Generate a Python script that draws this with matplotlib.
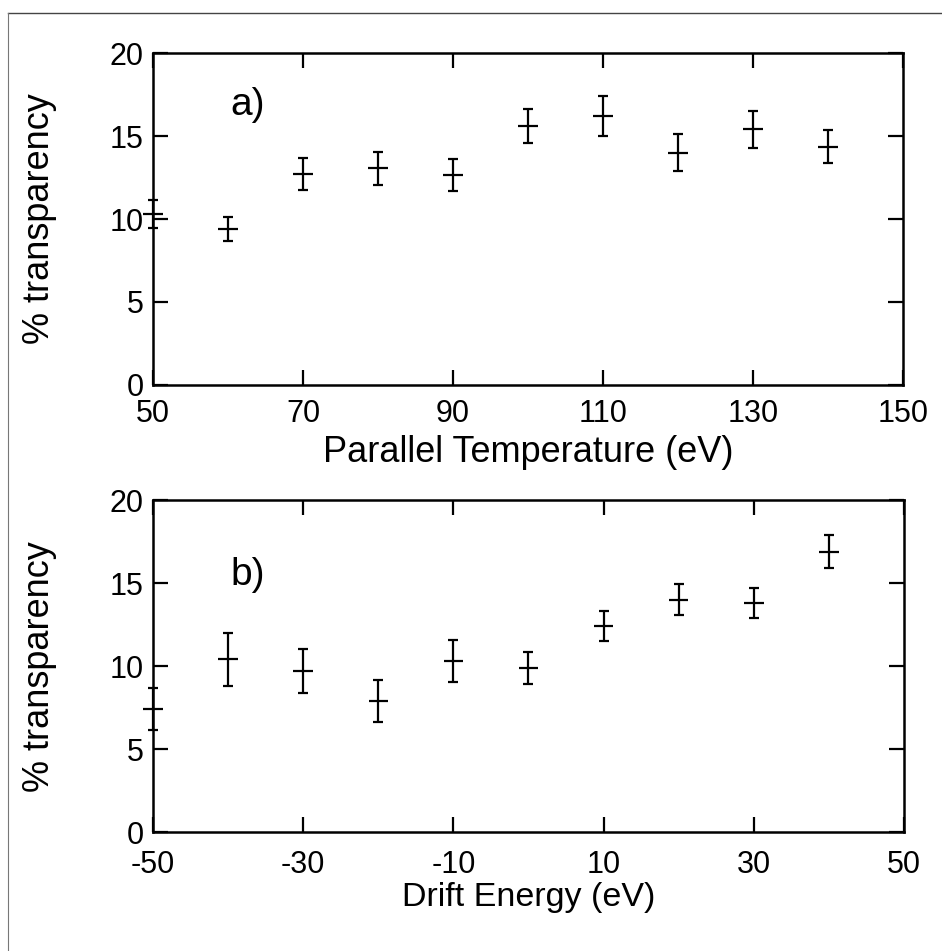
#############################################################
# transparency vs parallel temperature / drift energy
# two stacked panels, a) and b), error bars only
#############################################################

import matplotlib
matplotlib.use('Agg')
from matplotlib import pyplot as plt
from matplotlib.lines import Line2D

# panel a) data
temp_ev = [50, 60, 70, 80, 90, 100, 110, 120, 130, 140]
temp_trans = [10.3, 9.4, 12.7, 13.05, 12.65, 15.6, 16.2, 14.0, 15.4, 14.35]
temp_err = [0.85, 0.75, 0.95, 1.0, 0.97, 1.0, 1.2, 1.1, 1.1, 1.0]

# panel b) data
drift_ev = [-50, -40, -30, -20, -10, 0, 10, 20, 30, 40]
drift_trans = [7.4, 10.4, 9.7, 7.9, 10.3, 9.9, 12.4, 14.0, 13.8, 16.9]
drift_err = [1.25, 1.6, 1.3, 1.25, 1.25, 0.95, 0.9, 0.95, 0.9, 1.0]

x_half = 1.3  # half width of the horizontal bar of each "+"

temp_ticks = [50, 70, 90, 110, 130, 150]
drift_ticks = [-50, -30, -10, 10, 30, 50]
y_ticks = [0, 5, 10, 15, 20]

plt.rcParams['font.family'] = ['Liberation Sans', 'DejaVu Sans']
plt.rcParams['axes.unicode_minus'] = False


def draw_panel(ax, x, y, yerr, xticks, xlabel, tag, tag_y, xlabel_size, xpad):
    # vertical bars with caps
    ax.errorbar(x, y, yerr=yerr, fmt='none', ecolor='black', elinewidth=1.6,
                capsize=3.5, capthick=1.6, clip_on=False)
    # horizontal bar, no caps
    ax.errorbar(x, y, xerr=x_half, fmt='none', ecolor='black', elinewidth=1.6,
                capsize=0, clip_on=False)
    ax.set_xlim(xticks[0], xticks[-1])
    ax.set_ylim(0, 20)
    ax.set_xticks(xticks)
    ax.set_yticks(y_ticks)
    ax.tick_params(direction='in', length=11, width=1.6, labelsize=22,
                   top=True, right=True)
    ax.tick_params(axis='x', pad=xpad)
    ax.tick_params(axis='y', pad=6.5)
    for s in ax.spines.values():
        s.set_linewidth(1.8)
    ax.set_xlabel(xlabel, fontsize=xlabel_size)
    ax.xaxis.set_label_coords(0.5, -0.15)
    ax.set_ylabel('% transparency', fontsize=26)
    ax.yaxis.set_label_coords(-0.128, 0.5)
    ax.text(0.103, tag_y, tag, transform=ax.transAxes, fontsize=28,
            va='baseline', ha='left')


if __name__ == '__main__':
    fig = plt.figure(figsize=(9.42, 9.51), dpi=100)
    ax1 = fig.add_axes([0.1624, 0.5952, 0.7962, 0.349])
    ax2 = fig.add_axes([0.1624, 0.1251, 0.7972, 0.349])

    draw_panel(ax1, temp_ev, temp_trans, temp_err, temp_ticks,
               'Parallel Temperature (eV)', 'a)', 0.813, 26, 10)
    draw_panel(ax2, drift_ev, drift_trans, drift_err, drift_ticks,
               'Drift Energy (eV)', 'b)', 0.744, 24.5, 13)

    # scanned page edge (top and left only)
    fig.add_artist(Line2D([0.0085, 1.0], [1 - 13 / 951, 1 - 13 / 951],
                          transform=fig.transFigure, color='#444444', lw=1.0))
    fig.add_artist(Line2D([0.0085, 0.0085], [0.0, 1 - 13 / 951],
                          transform=fig.transFigure, color='#777777', lw=0.8))

    fig.savefig('out.png', dpi=100)
